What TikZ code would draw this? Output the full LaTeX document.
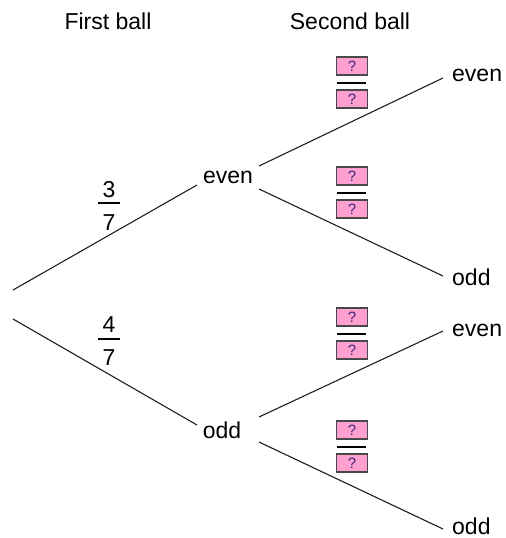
\documentclass[tikz,border=0pt]{standalone}
\usepackage{fontspec}
\setmainfont{Liberation Sans}
\definecolor{boxpink}{RGB}{255,160,208}
\definecolor{boxborder}{RGB}{72,72,72}
\definecolor{qcol}{RGB}{58,40,120}
\definecolor{linecol}{RGB}{30,30,30}
\newcommand\qpairbox[2]{%
  \node[qbox] (#1a) at (352,#2-17) {?};
  \node[qbox] (#1b) at (352,#2+16) {?};
  \draw[fbar] (337,#2) -- (366,#2);
}
\begin{document}
\begin{tikzpicture}[x=1bp,y=-1bp,
  lbl/.style={inner sep=0pt, font=\fontsize{23bp}{27bp}\selectfont},
  branch/.style={line width=1.1bp, draw=linecol},
  qbox/.style={draw=boxborder, fill=boxpink, line width=1.4bp, minimum width=31bp, minimum height=18bp, inner sep=0pt, font=\fontsize{15bp}{17bp}\selectfont, text=qcol},
  fbar/.style={line width=2bp, draw=black}]
\useasboundingbox (0,0) rectangle (506,538);

% headers
\node[lbl] (h1) at (108,21) {First ball};
\node[lbl] (h2) at (350,21) {Second ball};

% first level nodes
\node[lbl] (E) at (228,177) {even};
\node[lbl] (O) at (222,430) {odd};

% second level nodes
\node[lbl, anchor=west] (EE) at (452,75) {even};
\node[lbl, anchor=west] (EO) at (452,277) {odd};
\node[lbl, anchor=west] (OE) at (452,330) {even};
\node[lbl, anchor=west] (OO) at (452,526) {odd};

% connector end points
\coordinate (r1) at (13,290);
\coordinate (r2) at (13,319);
\coordinate (Ein) at (197,185);
\coordinate (Oin) at (197,425);
\coordinate (Eu) at (259,166);
\coordinate (Ed) at (259,189);
\coordinate (Ou) at (259,417);
\coordinate (Od) at (259,442);
\coordinate (EEin) at (443,78);
\coordinate (EOin) at (443,276);
\coordinate (OEin) at (443,331);
\coordinate (OOin) at (443,529);

\draw[branch] (r1) -- (Ein);
\draw[branch] (r2) -- (Oin);
\draw[branch] (Eu) -- (EEin);
\draw[branch] (Ed) -- (EOin);
\draw[branch] (Ou) -- (OEin);
\draw[branch] (Od) -- (OOin);

% fractions
\node[lbl] (f1n) at (109,190) {3};
\node[lbl] (f1d) at (109,222.5) {7};
\draw[fbar] (98,203) -- (120,203);
\node[lbl] (f2n) at (109,325) {4};
\node[lbl] (f2d) at (109,358) {7};
\draw[fbar] (98,339) -- (120,339);

% unknown probabilities
\qpairbox{p1}{83}
\qpairbox{p2}{193}
\qpairbox{p3}{334}
\qpairbox{p4}{447}
\end{tikzpicture}
\end{document}
